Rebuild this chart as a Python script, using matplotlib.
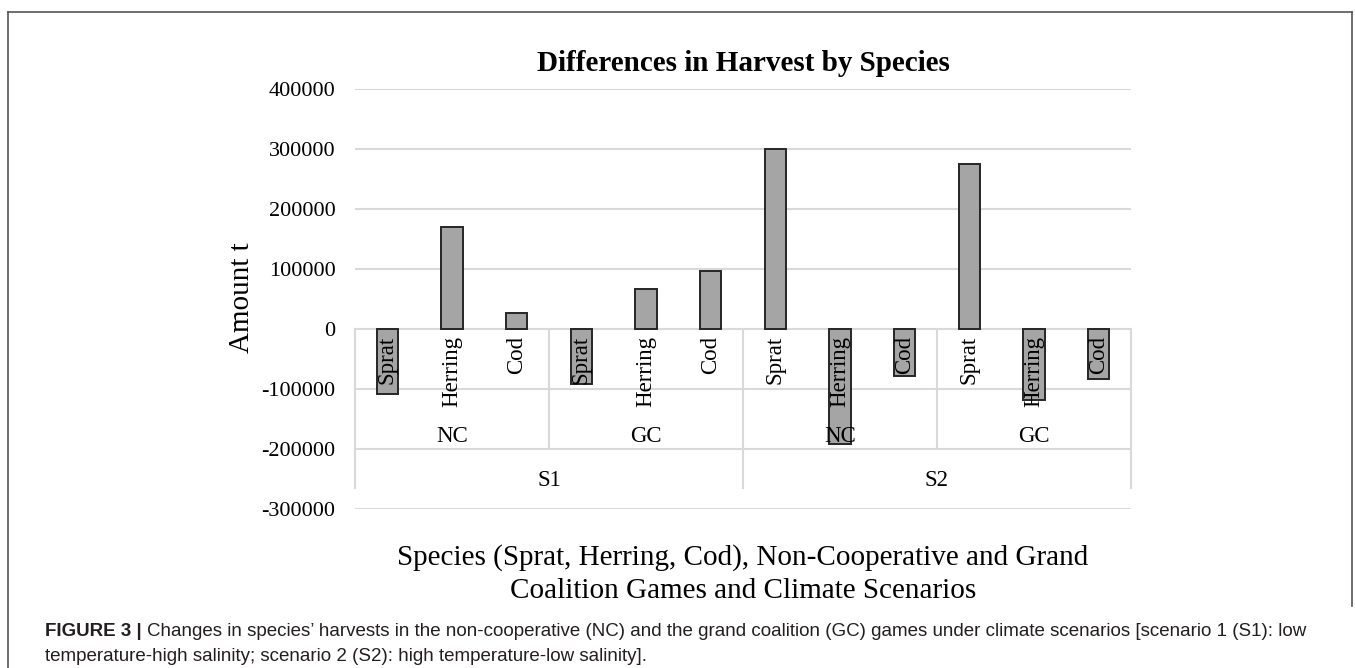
import numpy as np
import matplotlib.pyplot as plt
from matplotlib.lines import Line2D

# data
species = ["Sprat", "Herring", "Cod"]
games = ["NC", "GC"]
scenarios = ["S1", "S2"]
values = [-108000, 169500, 27000,      # S1 NC
          -92000, 67000, 97000,        # S1 GC
          300000, -192000, -78000,     # S2 NC
          274500, -118000, -83000]     # S2 GC
yticks = [-300000, -200000, -100000, 0, 100000, 200000, 300000, 400000]

serif = "Liberation Serif"
grid_c = "#d9d9d9"

W, H = 1355, 668
fig = plt.figure(figsize=(W / 100, H / 100), dpi=100)
ax = fig.add_axes([355 / W, 1 - 509 / H, (1131 - 355) / W, (509 - 89) / H])

x = np.arange(len(values))
ax.bar(x, values, width=0.325, color="#a5a5a5", edgecolor="#262626",
       linewidth=1.4, zorder=3)

ax.set_xlim(-0.5, len(values) - 0.5)
ax.set_ylim(-300000, 400000)
ax.set_yticks(yticks)
ax.set_yticklabels([str(v) for v in yticks], fontfamily=serif, fontsize=16)
ax.tick_params(axis="y", length=0, pad=14)
ax.set_xticks([])
for s in ax.spines.values():
    s.set_visible(False)
ax.grid(axis="y", color=grid_c, linewidth=1.5, zorder=0)

# multi-level category axis
n_sp = len(species)
for i in range(len(values)):
    ax.text(i, -11500, species[i % n_sp], rotation=90, ha="center", va="top",
            fontfamily=serif, fontsize=16.5, zorder=5)
for j in range(len(scenarios) * len(games)):
    ax.text(j * n_sp + 1, -180000, games[j % len(games)], ha="center",
            va="center", fontfamily=serif, fontsize=16.5, zorder=5)
for k, sc in enumerate(scenarios):
    ax.text(k * n_sp * len(games) + 2.5, -252000, sc, ha="center",
            va="center", fontfamily=serif, fontsize=16.5, zorder=5)

for xb in [-0.5, 5.5, 11.5]:
    ax.plot([xb, xb], [0, -265000], color=grid_c, lw=1.5, clip_on=False, zorder=1)
for xb in [2.5, 8.5]:
    ax.plot([xb, xb], [0, -199000], color=grid_c, lw=1.5, clip_on=False, zorder=1)

fig.text(743 / W, 1 - 71 / H, "Differences in Harvest by Species", ha="center",
         va="baseline", fontfamily=serif, fontsize=21, fontweight="bold")
fig.text(242 / W, 1 - 298 / H, "Amount t", rotation=90, ha="center",
         va="center", fontfamily=serif, fontsize=21)
fig.text(743 / W, 1 - 574 / H,
         "Species (Sprat, Herring, Cod), Non-Cooperative and Grand\n"
         "Coalition Games and Climate Scenarios",
         ha="center", va="center", fontfamily=serif, fontsize=21, linespacing=1.35)

# frame round the chart
fc = "#555555"
fig.add_artist(Line2D([8 / W, 8 / W], [0, 1 - 12 / H], color=fc, lw=1.2))
fig.add_artist(Line2D([8 / W, 1352 / W], [1 - 12 / H, 1 - 12 / H], color=fc, lw=1.2))
fig.add_artist(Line2D([1352 / W, 1352 / W], [1 - 12 / H, 1 - 606 / H], color=fc, lw=1.2))

# caption
cap_font = ["Liberation Sans Narrow", "Liberation Sans"]
cap_c = "#231f20"
t1 = fig.text(45 / W, 1 - 636 / H, "FIGURE 3 |", family=cap_font,
              fontweight="bold", fontsize=13.5, color=cap_c, va="baseline")
fig.canvas.draw()
bb = t1.get_window_extent()
fig.text((bb.x1 + 5) / W, 1 - 636 / H,
         "Changes in species\u2019 harvests in the non-cooperative (NC) and the grand "
         "coalition (GC) games under climate scenarios [scenario 1 (S1): low",
         family=cap_font, fontsize=13.5, color=cap_c, va="baseline")
fig.text(45 / W, 1 - 661 / H,
         "temperature-high salinity; scenario 2 (S2): high temperature-low salinity].",
         family=cap_font, fontsize=13.5, color=cap_c, va="baseline")

fig.savefig("out.png", dpi=100)
